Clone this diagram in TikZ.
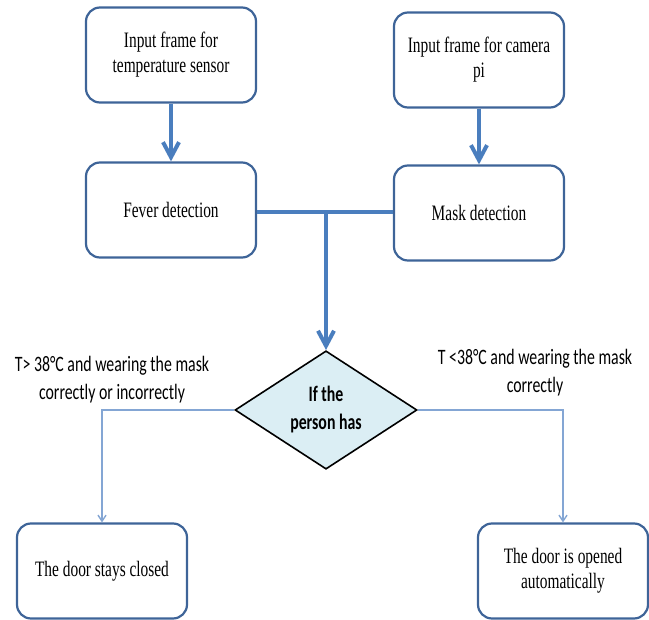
\documentclass[tikz,border=0pt]{standalone}
\usepackage{fontspec}
\setmainfont{Liberation Serif}
\newfontfamily\boxfont[FakeStretch=0.7]{Liberation Serif}
\newfontfamily\labfont[FakeStretch=0.72]{Carlito}
\usetikzlibrary{shapes.geometric,arrows.meta}
\definecolor{boxblue}{RGB}{62,100,152}
\definecolor{arrowblue}{RGB}{74,126,190}
\definecolor{lineblue}{RGB}{132,166,212}
\definecolor{diafill}{RGB}{219,238,244}

\begin{document}
\begin{tikzpicture}[x=1pt, y=-1pt]
	\tikzset{box/.style={rectangle, rounded corners=14pt, draw=boxblue, line width=2.2pt, minimum width=170pt, minimum height=95pt, align=center, font=\boxfont\fontsize{22}{25}\selectfont}};
	\tikzset{lab/.style={align=center, font=\labfont\fontsize{22}{28}\selectfont}};
	\tikzset{thick arrow/.style={draw=arrowblue, line width=4pt, -{Straight Barb[length=15pt, width=16pt]}}};
	\tikzset{thin arrow/.style={draw=lineblue, line width=1.4pt, -{Straight Barb[length=6pt, width=8pt]}}};

	\useasboundingbox (0, 0) rectangle (649, 620);

	\node[box] (tin) at (171, 55) {Input frame for\\temperature sensor};
	\node[box] (cin) at (479, 60) {Input frame for camera\\pi};
	\node[box] (fever) at (171, 210) {Fever detection};
	\node[box] (mask) at (479, 213) {Mask detection};
	\node[diamond, draw=black, line width=1.6pt, fill=diafill, inner sep=0pt, minimum width=182pt, minimum height=118pt, align=center, font=\labfont\bfseries\fontsize{22}{28}\selectfont] (has) at (326, 410) {If the\\person has};
	\node[box] (closed) at (102, 571) {The door stays closed};
	\node[box] (opened) at (563, 571) {The door is opened\\automatically};

	\node[lab] (hot) at (112, 380) {T> 38°C and wearing the mask\\correctly or incorrectly};
	\node[lab] (ok) at (535, 373) {T <38°C and wearing the mask\\correctly};

	\coordinate (j) at (326, 212);

	\draw[thick arrow] (tin) to (fever);
	\draw[thick arrow] (cin) to (mask);

	\draw[draw=arrowblue, line width=4.5pt] (fever.east |- j) to (mask.west |- j);
	\draw[thick arrow] (j) to (has.north);

	\draw[thin arrow] (has.west) -| (closed.north);
	\draw[thin arrow] (has.east) -| (opened.north);
\end{tikzpicture}
\end{document}
